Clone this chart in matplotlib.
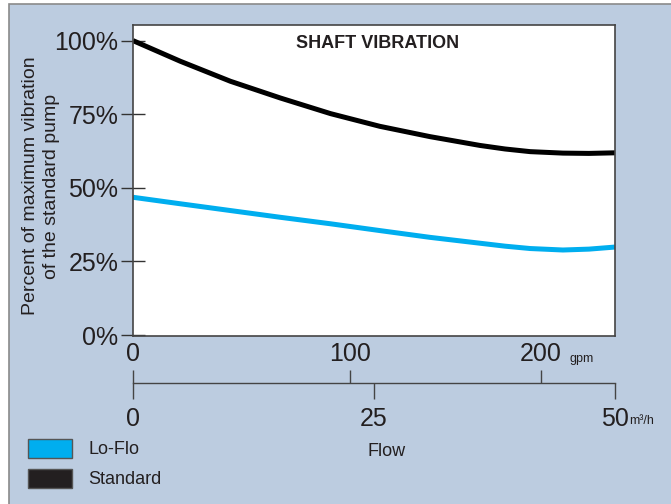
import matplotlib
matplotlib.use('Agg')
import matplotlib.pyplot as plt
from matplotlib.patches import Rectangle

# 字体
FONT = ['Liberation Sans', 'DejaVu Sans']
plt.rcParams['font.family'] = FONT
TXT = '#231f20'
BG = '#bccce0'

# 数据 (流量 m³/h, 振动百分比)
flow_m3h = [0, 4.9, 10.1, 15.3, 20.5, 25.6, 30.8, 36.0, 38.6, 41.2, 44.6, 47.3, 50]
standard = [100, 93.0, 86.2, 80.5, 75.2, 70.9, 67.4, 64.4, 63.2, 62.3, 61.8, 61.7, 61.9]
lo_flo = [46.8, 44.6, 42.3, 40.0, 37.8, 35.5, 33.2, 31.2, 30.2, 29.4, 28.9, 29.2, 29.9]

y_ticks = [0, 25, 50, 75, 100]
m3h_ticks = [0, 25, 50]
gpm_labels = ['0', '100', '200']
gpm_tick_pos = [0, 22.5, 42.3]  # gpm 刻度在 m³/h 轴上的位置

legend_names = ['Lo-Flo', 'Standard']
legend_colors = ['#00aeef', '#231f20']

W, H = 671, 504
fig = plt.figure(figsize=(W / 100, H / 100), dpi=100, facecolor='white')


def fx(px):
    return px / W


def fy(py):
    return 1 - py / H


# 背景框
fig.patches.append(Rectangle((fx(9), -0.1), 1.2, fy(4) + 0.1, transform=fig.transFigure,
                             facecolor=BG, edgecolor='#8a8a8a', lw=1.2, zorder=-5))

# 主图
ax = fig.add_axes([fx(133), fy(336), fx(615) - fx(133), fy(25) - fy(336)])
ax.set_facecolor('white')
ax.plot(flow_m3h, standard, color='black', lw=3.6, solid_capstyle='butt', solid_joinstyle='round')
ax.plot(flow_m3h, lo_flo, color='#00aeef', lw=3.6, solid_capstyle='butt', solid_joinstyle='round')
ax.set_xlim(0, 50)
ax.set_ylim(-0.3, 105.3)
ax.set_xticks([])
ax.set_yticks(y_ticks, labels=[f'{v}%' for v in y_ticks])
ax.tick_params(axis='y', direction='inout', length=17, width=1, color='#333333',
               pad=2, labelsize=18, labelcolor=TXT)
for s in ax.spines.values():
    s.set_color('#444444')
    s.set_linewidth(1.2)

fig.text(fx(378), fy(44), 'SHAFT VIBRATION', ha='center', va='center',
         fontsize=13, fontweight='bold', color=TXT)
fig.text(fx(41), fy(186), 'Percent of maximum vibration\nof the standard pump',
         rotation=90, ha='center', va='center', multialignment='center',
         fontsize=14, linespacing=1.3, color=TXT)

# 下方双单位流量轴
ax2 = fig.add_axes([fx(133), fy(383), fx(615) - fx(133), 1e-4])
ax2.patch.set_visible(False)
ax2.set_xlim(0, 50)
ax2.set_yticks([])
for k in ['left', 'right', 'top']:
    ax2.spines[k].set_visible(False)
ax2.spines['bottom'].set_color('#444444')
ax2.spines['bottom'].set_linewidth(1)
ax2.set_xticks(m3h_ticks, labels=[str(v) for v in m3h_ticks])
ax2.tick_params(axis='x', direction='out', length=11.5, width=1, color='#444444',
                pad=5.5, labelsize=18, labelcolor=TXT)

ax3 = ax2.twiny()
ax3.patch.set_visible(False)
ax3.set_xlim(0, 50)
for s in ax3.spines.values():
    s.set_visible(False)
ax3.set_xticks(gpm_tick_pos, labels=gpm_labels)
ax3.tick_params(axis='x', direction='out', length=9.4, width=1, color='#444444',
                pad=2.5, labelsize=18, labelcolor=TXT)

fig.text(fx(569), fy(362), 'gpm', va='baseline', ha='left', fontsize=9, color=TXT)
fig.text(fx(629), fy(424), 'm³/h', va='baseline', ha='left', fontsize=9, color=TXT)
fig.text(fx(387), fy(452), 'Flow', ha='center', va='center', fontsize=13, color=TXT)

# 图例
for i, (name, c) in enumerate(zip(legend_names, legend_colors)):
    top = 439 + i * 30
    fig.patches.append(Rectangle((fx(28), fy(top + 19)), fx(72) - fx(28), fy(top) - fy(top + 19),
                                 transform=fig.transFigure, facecolor=c,
                                 edgecolor='#555555', lw=1, zorder=2))
    fig.text(fx(88), fy(top + 10), name, ha='left', va='center', fontsize=13, color=TXT)

fig.savefig('out.png', dpi=100, facecolor=fig.get_facecolor())
